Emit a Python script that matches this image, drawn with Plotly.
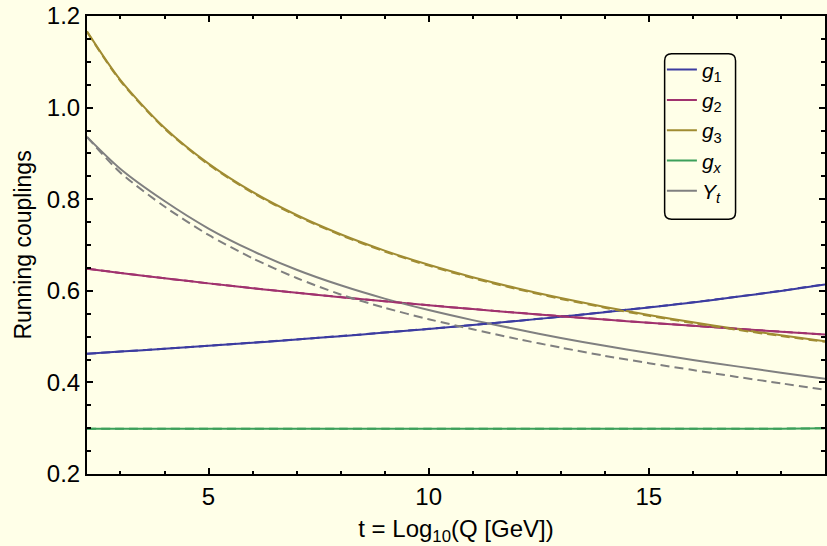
import plotly.graph_objects as go

# t = log10(Q [GeV])
t = [2.24, 3, 4, 5, 6, 7, 8, 9, 10, 11, 12, 13, 14, 15, 16, 17, 18, 19]

g1 = [0.4626, 0.4672, 0.4734, 0.4798, 0.4866, 0.4936, 0.5010, 0.5087, 0.5167,
      0.5252, 0.5341, 0.5434, 0.5533, 0.5637, 0.5747, 0.5868, 0.5998, 0.6140]
g2 = [0.6483, 0.6390, 0.6273, 0.6162, 0.6056, 0.5957, 0.5861, 0.5770, 0.5684,
      0.5601, 0.5521, 0.5445, 0.5372, 0.5302, 0.5235, 0.5170, 0.5107, 0.5045]
g3 = [1.1666, 1.0600, 0.9560, 0.8777, 0.8159, 0.7655, 0.7235, 0.6877, 0.6567,
      0.6296, 0.6056, 0.5841, 0.5648, 0.5472, 0.5312, 0.5166, 0.5030, 0.4900]
gx = [0.299, 0.299, 0.299, 0.299, 0.299, 0.299, 0.299, 0.299, 0.299,
      0.299, 0.299, 0.299, 0.299, 0.299, 0.299, 0.299, 0.299, 0.300]
Yt = [0.936, 0.866, 0.796, 0.736, 0.687, 0.646, 0.612, 0.583, 0.558,
      0.536, 0.516, 0.497, 0.480, 0.464, 0.449, 0.435, 0.421, 0.408]

# dashed (comparison) curves
g1_d = [0.4626, 0.4673, 0.4735, 0.4800, 0.4868, 0.4938, 0.5012, 0.5089, 0.5169,
        0.5254, 0.5343, 0.5436, 0.5535, 0.5639, 0.5749, 0.5870, 0.6000, 0.6142]
g2_d = [0.6483, 0.6391, 0.6274, 0.6163, 0.6057, 0.5958, 0.5862, 0.5771, 0.5685,
        0.5602, 0.5522, 0.5446, 0.5373, 0.5303, 0.5236, 0.5171, 0.5108, 0.5046]
g3_d = [1.1650, 1.0580, 0.9540, 0.8757, 0.8139, 0.7636, 0.7216, 0.6858, 0.6549,
        0.6278, 0.6038, 0.5823, 0.5630, 0.5455, 0.5295, 0.5149, 0.5013, 0.4885]
gx_d = [0.299, 0.299, 0.299, 0.299, 0.299, 0.299, 0.299, 0.299, 0.299,
        0.299, 0.299, 0.299, 0.299, 0.299, 0.299, 0.299, 0.299, 0.300]
Yt_d = [0.936, 0.858, 0.784, 0.722, 0.671, 0.628, 0.592, 0.563, 0.538,
        0.516, 0.495, 0.476, 0.458, 0.442, 0.427, 0.412, 0.398, 0.384]

names = ["<i>g</i><sub>1</sub>", "<i>g</i><sub>2</sub>", "<i>g</i><sub>3</sub>",
         "<i>g<sub>x</sub></i>", "<i>Y<sub>t</sub></i>"]
colors = ["#3C3CA0", "#A0326E", "#A08C32", "#3CA05A", "#808080"]
solid = [g1, g2, g3, gx, Yt]
dashed = [g1_d, g2_d, g3_d, gx_d, Yt_d]

BG = "#FFFFE8"
FONT = "Liberation Sans, Arial, sans-serif"

fig = go.Figure()
for name, col, ys in zip(names, colors, solid):
    fig.add_trace(go.Scatter(x=t, y=ys, mode="lines", name=name,
                             line=dict(color=col, width=2, shape="spline", smoothing=0.8)))
for name, col, ys in zip(names, colors, dashed):
    fig.add_trace(go.Scatter(x=t, y=ys, mode="lines", name=name, showlegend=False,
                             line=dict(color=col, width=2, dash="9px,5px",
                                       shape="spline", smoothing=0.8)))

# legend box geometry (paper coords)
lx0, lx1, ly0, ly1 = 0.7827, 0.8788, 0.556, 0.9176
rx, ry = 0.0095, 0.0153
path = (f"M{lx0+rx},{ly1} L{lx1-rx},{ly1} Q{lx1},{ly1} {lx1},{ly1-ry} "
        f"L{lx1},{ly0+ry} Q{lx1},{ly0} {lx1-rx},{ly0} L{lx0+rx},{ly0} "
        f"Q{lx0},{ly0} {lx0},{ly0+ry} L{lx0},{ly1-ry} Q{lx0},{ly1} {lx0+rx},{ly1} Z")

axis_common = dict(
    showline=True, linecolor="black", linewidth=2, mirror="allticks",
    ticks="inside", tickcolor="black", tickwidth=2, showgrid=False, zeroline=False,
    automargin=False,
    tickfont=dict(family=FONT, size=24, color="black"),
)

fig.update_layout(
    width=827, height=546,
    margin=dict(l=87, r=2, t=16, b=72, autoexpand=False),
    paper_bgcolor=BG, plot_bgcolor=BG,
    font=dict(family=FONT, color="black"),
    showlegend=True,
    legend=dict(x=0.779, y=0.927, xanchor="left", yanchor="top",
                bgcolor="rgba(0,0,0,0)", borderwidth=0,
                font=dict(family=FONT, size=21, color="black"),
                itemwidth=30, tracegroupgap=0),
    shapes=[dict(type="path", xref="paper", yref="paper", path=path,
                 line=dict(color="black", width=1.5), fillcolor="rgba(0,0,0,0)")],
    xaxis=dict(range=[2.24, 19], tickvals=[5, 10, 15], ticklen=6,
               minor=dict(ticks="inside", dtick=1, tick0=0, ticklen=3, tickwidth=2,
                          tickcolor="black"),
               title=dict(text="t = Log<sub>10</sub>(Q [GeV])",
                          font=dict(family=FONT, size=24, color="black")),
               **axis_common),
    yaxis=dict(range=[0.2, 1.2], dtick=0.2, tick0=0.2, tickformat=".1f", ticklen=6,
               minor=dict(ticks="inside", dtick=0.05, tick0=0.2, ticklen=4, tickwidth=2,
                          tickcolor="black"),
               title=dict(text="Running couplings", standoff=9,
                          font=dict(family=FONT, size=23, color="black")),
               **axis_common),
)

fig.write_html("out.html",
               config={"displayModeBar": False},
               post_script="document.body.style.margin='0';document.body.style.background='" + BG + "';")
